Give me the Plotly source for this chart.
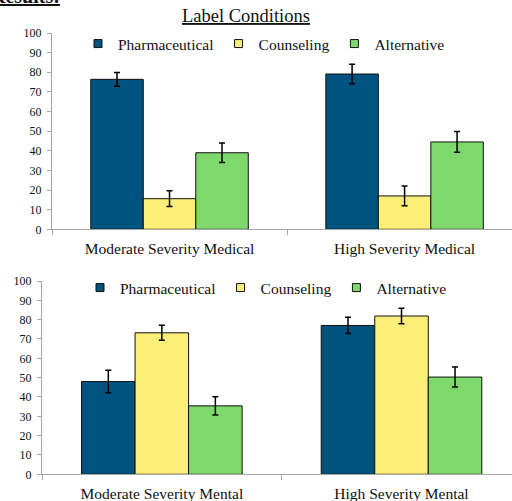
import plotly.graph_objects as go

W, H = 512, 501

series = ["Pharmaceutical", "Counseling", "Alternative"]
colors = ["#00537F", "#FBEE79", "#7ED86C"]

top_categories = ["Moderate Severity Medical", "High Severity Medical"]
top_values = {
    "Pharmaceutical": [76.4, 79.1],
    "Counseling": [15.6, 17.0],
    "Alternative": [39.0, 44.5],
}
top_errors = {
    "Pharmaceutical": [3.5, 5.0],
    "Counseling": [4.0, 5.0],
    "Alternative": [5.0, 5.3],
}

bottom_categories = ["Moderate Severity Mental", "High Severity Mental"]
bottom_values = {
    "Pharmaceutical": [48.0, 77.0],
    "Counseling": [73.2, 81.9],
    "Alternative": [35.4, 50.3],
}
bottom_errors = {
    "Pharmaceutical": [5.8, 4.2],
    "Counseling": [3.9, 4.0],
    "Alternative": [4.7, 5.2],
}

y_ticks = list(range(0, 101, 10))

FONT = "Liberation Serif"

fig = go.Figure()

for name, col in zip(series, colors):
    fig.add_trace(go.Bar(
        x=top_categories, y=top_values[name], name=name,
        marker=dict(color=col, line=dict(color="#111111", width=1)),
        error_y=dict(type="data", array=top_errors[name], color="#000000",
                     thickness=1.5, width=3),
        xaxis="x", yaxis="y", showlegend=False,
    ))
    fig.add_trace(go.Bar(
        x=bottom_categories, y=bottom_values[name], name=name,
        marker=dict(color=col, line=dict(color="#111111", width=1)),
        error_y=dict(type="data", array=bottom_errors[name], color="#000000",
                     thickness=1.5, width=3),
        xaxis="x2", yaxis="y2", showlegend=False,
    ))

# legend entries (small square keys)
for lg, xa, ya in (("legend", "x", "y"), ("legend2", "x2", "y2")):
    for name, col in zip(series, colors):
        fig.add_trace(go.Scatter(
            x=[None], y=[None], name=name, mode="markers",
            marker=dict(symbol="square", size=8, color=col,
                        line=dict(color="#111111", width=1)),
            xaxis=xa, yaxis=ya, legend=lg, showlegend=True,
        ))

def px(x):
    return x / W

def py(y):
    return 1 - y / H

axis_common = dict(
    showgrid=False, zeroline=False, showline=True, linecolor="#A6A6A6",
    linewidth=1, ticks="outside", tickcolor="#A6A6A6", ticklen=5,
    ticklabelstandoff=5, automargin=False,
    tickfont=dict(family=FONT, size=15.5, color="#111111"),
)
yaxis_common = dict(
    showgrid=False, zeroline=False, showline=True, linecolor="#A6A6A6",
    linewidth=1, ticks="outside", tickcolor="#A6A6A6", ticklen=4,
    ticklabelstandoff=3, automargin=False,
    range=[0, 100], tickvals=y_ticks,
    tickfont=dict(family=FONT, size=12, color="#111111"),
)

fig.update_layout(
    template="none",
    width=W, height=H,
    margin=dict(l=0, r=0, t=0, b=0, autoexpand=False),
    paper_bgcolor="white", plot_bgcolor="white",
    barmode="group", bargap=0.33, bargroupgap=0,
    font=dict(family=FONT, color="#111111"),
    xaxis=dict(axis_common, domain=[px(52), 1], anchor="y",
               type="category", tickson="boundaries",
               range=[-0.5, 1.457]),
    yaxis=dict(yaxis_common, domain=[py(229.3), py(33)], anchor="x"),
    xaxis2=dict(axis_common, domain=[px(42), 1], anchor="y2",
                type="category", tickson="boundaries",
                range=[-0.5, 1.461]),
    yaxis2=dict(yaxis_common, domain=[py(474.3), py(281)], anchor="x2"),
    legend=dict(orientation="h", x=px(264), y=py(44), xanchor="center",
                yanchor="middle", font=dict(family=FONT, size=15.5, color="#111111"),
                bgcolor="rgba(0,0,0,0)", itemwidth=30, tracegroupgap=0),
    legend2=dict(orientation="h", x=px(266), y=py(288), xanchor="center",
                 yanchor="middle", font=dict(family=FONT, size=15.5, color="#111111"),
                 bgcolor="rgba(0,0,0,0)", itemwidth=30, tracegroupgap=0),
    annotations=[
        dict(text="Label Conditions", x=px(245.5), y=py(16), xref="paper",
             yref="paper", xanchor="center", yanchor="middle", showarrow=False,
             font=dict(family=FONT, size=18.5, color="#111111", lineposition="under")),
        dict(text="<b>Results:</b>", x=px(62), y=py(-4), xref="paper",
             yref="paper", xanchor="right", yanchor="middle", showarrow=False,
             font=dict(family=FONT, size=20, color="#111111", lineposition="under")),
    ],
)

fig.write_html("out.html", config={"displayModeBar": False},
               post_script="document.body.style.margin='0';")
